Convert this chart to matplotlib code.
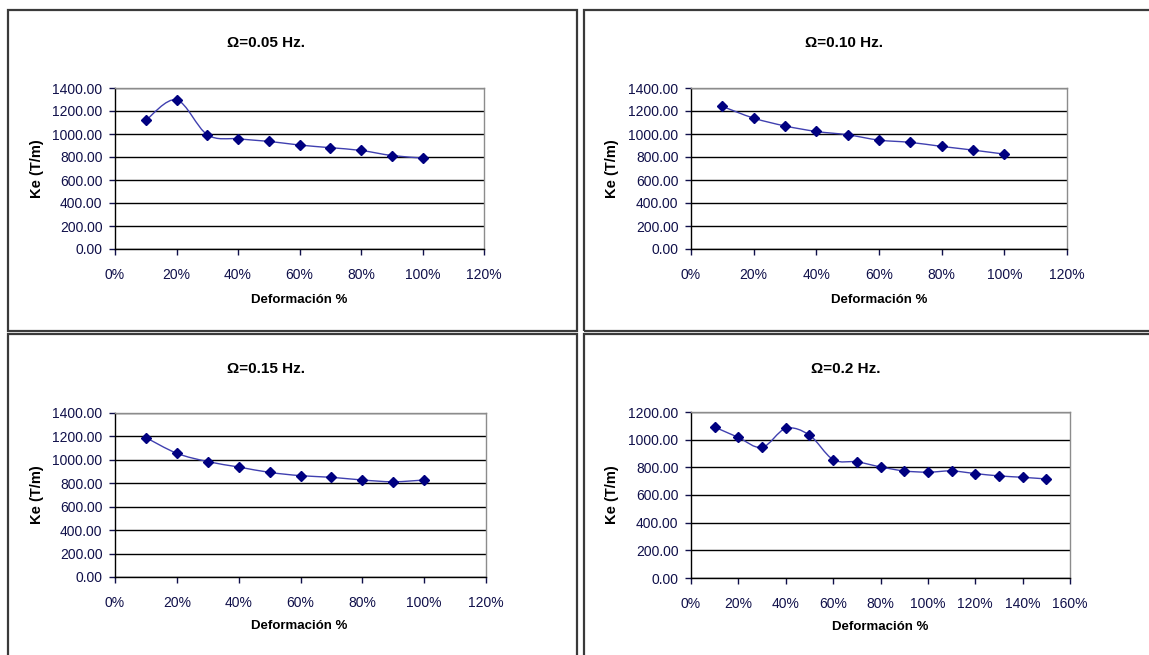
import numpy as np
import matplotlib.pyplot as plt
from matplotlib.path import Path
from matplotlib.patches import PathPatch, Rectangle
from matplotlib.ticker import FuncFormatter, MultipleLocator

plt.rcParams['font.family'] = ['Liberation Sans', 'DejaVu Sans']

# Ke (T/m) against strain for each loading frequency
deform_a = [0.10, 0.20, 0.30, 0.40, 0.50, 0.60, 0.70, 0.80, 0.90, 1.00]
ke_005 = [1118, 1297, 994, 958, 936, 904, 881, 857, 813, 791]
ke_010 = [1240, 1138, 1070, 1022, 993, 947, 927, 892, 860, 825]
ke_015 = [1190, 1056, 985, 939, 893, 865, 851, 828, 813, 828]

deform_b = [0.10, 0.20, 0.30, 0.40, 0.50, 0.60, 0.70, 0.80,
            0.90, 1.00, 1.10, 1.20, 1.30, 1.40, 1.50]
ke_020 = [1091, 1016, 944, 1081, 1033, 856, 840, 803,
          774, 765, 774, 755, 738, 728, 716]

W, H = 1149, 655
fig = plt.figure(figsize=(W / 100, H / 100), dpi=100)


def px_axes(left, top, right, bottom):
    return fig.add_axes([left / W, 1 - bottom / H, (right - left) / W, (bottom - top) / H])


def frame(left, top, right, bottom):
    fig.patches.append(Rectangle((left / W, 1 - bottom / H), (right - left) / W,
                                 (bottom - top) / H, transform=fig.transFigure,
                                 fill=False, edgecolor='#3a3a3a', linewidth=1.6))


def smooth_path(x, y):
    # Bezier segments like a spreadsheet "smoothed line"
    pts = np.column_stack([x, y]).astype(float)
    verts = [pts[0]]
    codes = [Path.MOVETO]
    n = len(pts)
    for i in range(n - 1):
        p0 = pts[max(i - 1, 0)]
        p1 = pts[i]
        p2 = pts[i + 1]
        p3 = pts[min(i + 2, n - 1)]
        c1 = p1 + (p2 - p0) / 6
        c2 = p2 - (p3 - p1) / 6
        verts += [c1, c2, p2]
        codes += [Path.CURVE4] * 3
    return Path(verts, codes)


def panel(ax, x, y, title, ylabel, ymax, xmax, title_xy, xlabel_xy, ylabel_x):
    ax.add_patch(PathPatch(smooth_path(x, y), facecolor='none',
                           edgecolor='#4040b0', linewidth=1.0, zorder=3))
    ax.plot(x, y, linestyle='none', marker='D', markersize=5.5,
            color='#000080', zorder=4)
    ax.set_xlim(0, xmax)
    ax.set_ylim(0, ymax)
    ax.xaxis.set_major_locator(MultipleLocator(0.2))
    ax.yaxis.set_major_locator(MultipleLocator(200))
    ax.xaxis.set_major_formatter(FuncFormatter(lambda v, p: f'{v * 100:.0f}%'))
    ax.yaxis.set_major_formatter(FuncFormatter(lambda v, p: f'{v:.2f}'))
    ax.grid(axis='y', color='black', linewidth=1.0)
    ax.set_axisbelow(True)
    for s in ('top', 'right'):
        ax.spines[s].set_color('#8c8c8c')
        ax.spines[s].set_linewidth(1.0)
    for s in ('left', 'bottom'):
        ax.spines[s].set_color('black')
        ax.spines[s].set_linewidth(1.0)
    ax.tick_params(direction='out', length=4, width=1, labelsize=10,
                   colors='#10104a', pad=5)
    ax.tick_params(axis='x', pad=10)
    fig.text(title_xy[0] / W, 1 - title_xy[1] / H, title, ha='center', va='center',
             fontsize=11, fontweight='bold')
    fig.text(xlabel_xy[0] / W, 1 - xlabel_xy[1] / H, 'Deformación %', ha='center',
             va='center', fontsize=9.5, fontweight='bold')
    cy = (ax.get_position().y0 + ax.get_position().y1) / 2
    fig.text(ylabel_x / W, cy, ylabel, ha='center', va='center', rotation=90,
             fontsize=10.5, fontweight='bold')


frame(8, 10, 577, 331)
frame(584, 10, 1152, 331)
frame(8, 334, 577, 660)
frame(584, 334, 1152, 660)

ax1 = px_axes(115, 88, 484, 249)
panel(ax1, deform_a, ke_005, 'Ω=0.05 Hz.', 'Ke (T/m)', 1400, 1.2,
      (266, 43), (299, 300), 37)

ax2 = px_axes(691, 88, 1067, 249)
panel(ax2, deform_a, ke_010, 'Ω=0.10 Hz.', 'Ke (T/m)', 1400, 1.2,
      (844, 43), (879, 300), 612)

ax3 = px_axes(115, 413, 486, 577)
panel(ax3, deform_a, ke_015, 'Ω=0.15 Hz.', 'Ke (T/m)', 1400, 1.2,
      (266, 369), (299, 626), 37)

ax4 = px_axes(691, 412, 1070, 578)
panel(ax4, deform_b, ke_020, 'Ω=0.2 Hz.', 'Ke (T/m)', 1200, 1.6,
      (846, 369), (880, 627), 612)

fig.savefig('out.png', dpi=100)
